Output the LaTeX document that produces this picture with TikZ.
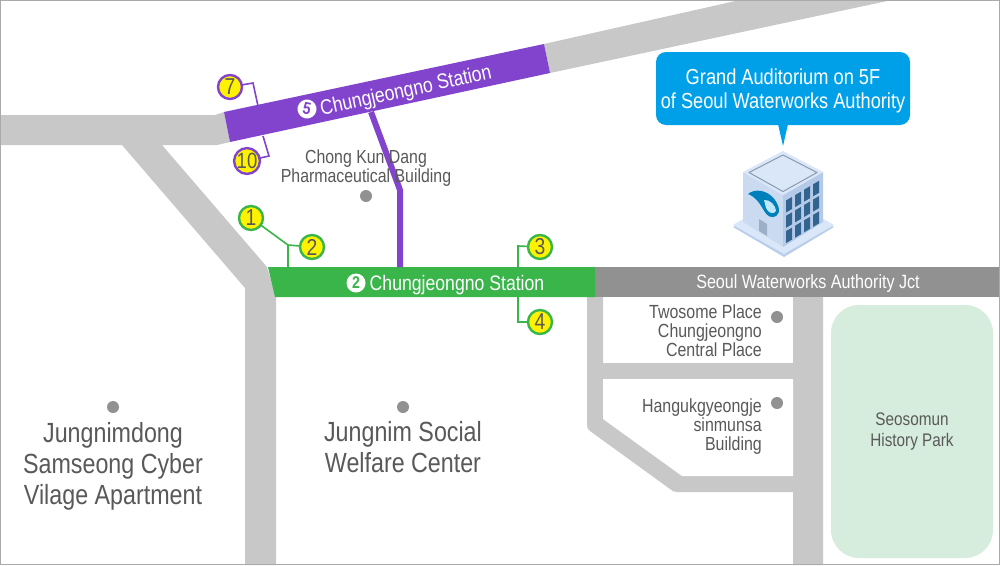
\documentclass[tikz,border=0pt]{standalone}
\usepackage{fontspec}
\setmainfont[FakeStretch=0.84]{Liberation Sans}
\definecolor{road}{HTML}{C8C8C8}
\definecolor{jct}{HTML}{919191}
\definecolor{grn}{HTML}{39B54A}
\definecolor{pur}{HTML}{8244CC}
\definecolor{txt}{HTML}{595959}
\definecolor{sky}{HTML}{00A0E9}
\definecolor{park}{HTML}{D6ECDD}
\definecolor{yel}{HTML}{FFF200}
\definecolor{wallL}{HTML}{CADBF1}
\definecolor{wallR}{HTML}{B4CAE8}
\definecolor{roofc}{HTML}{D9E7F8}
\definecolor{edgec}{HTML}{B9CEEA}
\definecolor{win}{HTML}{33648F}
\tikzset{
 x=1pt,y=-1pt,
 roadf/.style={fill=road,draw=none},
 exitg/.style={circle,draw=grn,fill=yel,line width=2.4pt,minimum size=24pt,inner sep=0pt,font=\fontsize{23}{23}\selectfont,text=txt},
 exitp/.style={circle,draw=pur,fill=yel,line width=2.4pt,minimum size=24pt,inner sep=0pt,font=\fontsize{23}{23}\selectfont,text=txt},
 lg/.style={draw=grn,line width=1.6pt},
 lp/.style={draw=pur,line width=1.6pt},
 poi/.style={circle,fill=jct,minimum size=12pt,inner sep=0pt},
 lab/.style={text=txt,align=center,inner sep=0pt},
 labr/.style={text=txt,align=right,inner sep=0pt,font=\fontsize{19}{19}\selectfont},
 big/.style={lab,font=\fontsize{27.7}{31}\selectfont},
 mid/.style={lab,font=\fontsize{18.9}{16.5}\selectfont},
 wlab/.style={text=white,inner sep=0pt},
 lineno/.style={circle,fill=white,minimum size=19pt,inner sep=0pt,font=\bfseries\fontsize{17}{17}\selectfont},
 winr/.style={fill=win,draw=none}
}
\begin{document}
\begin{tikzpicture}
\useasboundingbox (0,0) rectangle (1000,565);
\fill[white] (0,0) rectangle (1000,565);
% roads
\fill[roadf] (0,115) -- (215,115) -- (224,112) -- (230,142) -- (217,145) -- (162,145) -- (267,267) -- (276,297) -- (276,565) -- (245,565) -- (245,288) -- (122,145) -- (0,145) -- cycle;
\fill[roadf] (544,44) -- (740,0) -- (892,0) -- (550,73) -- cycle;
\fill[roadf] (587,297) -- (603,297) -- (603,363) -- (793,363) -- (793,297) -- (823,297) -- (823,565) -- (793,565) -- (793,492) -- (677,492) .. controls (674,492) and (672,491) .. (670,489) -- (590,431) .. controls (588,430) and (587,428) .. (587,425) -- cycle;
\fill[white] (603,379) -- (793,379) -- (793,476) -- (682,476) -- (603,419) -- cycle;
% park
\fill[park,rounded corners=28pt] (831,305) rectangle (993,558);
\node[lab,font=\fontsize{18.2}{21}\selectfont] (parkt) at (912,432) {Seosomun\\History Park};
% stations
\fill[grn] (268,267) -- (595,267) -- (595,297) -- (275,297) -- cycle;
\fill[jct] (595,267) rectangle (1000,297);
\node[wlab,font=\fontsize{19.2}{19.2}\selectfont] (jctt) at (808,284) {Seoul Waterworks Authority Jct};
% purple link
\coordinate (pa) at (371,112);
\coordinate (pb) at (400,190);
\coordinate (pc) at (400,267);
\draw[pur,line width=6pt,line join=round] (pa) -- (pb) -- (pc);
\fill[pur] (224,112) -- (544,44) -- (550,73) -- (230,142) -- cycle;
% exits
\coordinate (c7) at (230,87);
\coordinate (c10) at (247,161);
\coordinate (c1) at (251,218);
\coordinate (c2) at (312,247);
\coordinate (c3) at (540,247);
\coordinate (c4) at (540,322);
\coordinate (j7a) at (253,83);
\coordinate (j7b) at (258,106);
\coordinate (j10a) at (263,136);
\coordinate (j10b) at (269,156);
\coordinate (j12) at (288,245);
\coordinate (j12b) at (288,267);
\coordinate (j3a) at (518,246);
\coordinate (j3b) at (518,267);
\coordinate (j4a) at (518,297);
\coordinate (j4b) at (518,322);
\draw[lp] (c7) -- (j7a) -- (j7b);
\draw[lp] (j10a) -- (j10b) -- (c10);
\draw[lg] (c1) -- (j12) -- (c2);
\draw[lg] (j12) -- (j12b);
\draw[lg] (c3) -- (j3a) -- (j3b);
\draw[lg] (j4a) -- (j4b) -- (c4);
\node[exitp] (e7) at (c7) {7};
\node[exitp,font=\fontsize{22}{22}\selectfont] (e10) at (c10) {10};
\node[exitg] (e1) at (c1) {1};
\node[exitg] (e2) at (c2) {2};
\node[exitg] (e3) at (c3) {3};
\node[exitg] (e4) at (c4) {4};
% station labels
\node[lineno,text=grn] (n2) at (356,283) {2};
\node[wlab,font=\fontsize{21}{21}\selectfont] (gt) at (457,285.5) {Chungjeongno Station};
\node[lineno,text=pur,rotate=-12] (n5) at (307,109) {5};
\node[wlab,font=\fontsize{21}{21}\selectfont,rotate=12.2] (pt) at (406,91.5) {Chungjeongno Station};
% POIs
\node[poi] (d1) at (366,196) {};
\node[mid] (t1) at (366,168) {Chong Kun Dang\\Pharmaceutical Building};
\node[poi] (d2) at (777,317) {};
\node[labr,anchor=north east] (t2) at (762,305) {Twosome Place\\Chungjeongno\\Central Place};
\node[poi] (d3) at (777,403) {};
\node[labr,anchor=north east] (t3) at (762,399) {Hangukgyeongje\\sinmunsa\\Building};
\node[poi] (d4) at (113,407) {};
\node[big] (t4) at (113,466) {Jungnimdong\\Samseong Cyber\\Vilage Apartment};
\node[poi] (d5) at (403,407) {};
\node[big] (t5) at (403,447.5) {Jungnim Social\\Welfare Center};
% callout
\fill[sky,rounded corners=10pt] (656,52) rectangle (910,125);
\fill[sky] (778,124) -- (788,124) -- (783,146) -- cycle;
\node[wlab,align=center,font=\fontsize{21.7}{24}\selectfont] (ct) at (783,91) {Grand Auditorium on 5F\\of Seoul Waterworks Authority};
% building
\fill[edgec] (733,227) -- (743,222) -- (823,222) -- (834,227) -- (784,257) -- cycle;
\fill[roofc] (733,225) -- (783,196) -- (834,225) -- (784,254) -- cycle;
\fill[wallL] (743,172) -- (783,195) -- (783,247) -- (743,222) -- cycle;
\fill[wallR] (823,172) -- (783,195) -- (783,247) -- (823,222) -- cycle;
\fill[roofc] (783,151) -- (743,172) -- (783,195) -- (823,172) -- cycle;
\draw[edgec!75!black,line width=1pt,line join=round] (783,155) -- (749,172.5) -- (783,191.5) -- (817,172.5) -- cycle;
\foreach \c in {0,1,2,3} \foreach \r in {0,1,2} {
 \pgfmathsetmacro{\xa}{786+\c*9}
 \pgfmathsetmacro{\ya}{200.5-\c*5.4+\r*15.3}
 \fill[winr] (\xa,\ya) -- ++(6,-3.5) -- ++(0,12) -- ++(-6,3.5) -- cycle;
}
\fill[edgec!85!black] (759,219) -- (767,224) -- (767,236) -- (759,231) -- cycle;
\fill[sky!80!black] (748,194) .. controls (755,188) and (768,190) .. (775,200) .. controls (782,210) and (779,217) .. (772,217) .. controls (763,217) and (763,200) .. (748,194) -- cycle;
\fill[white!75!sky] (764,200) .. controls (770,199) and (776,206) .. (776,211) .. controls (774,215) and (768,213) .. (766,208) -- cycle;
% frame
\draw[line width=1.5pt,draw=road!85!black] (0.7,0.7) rectangle (999.3,564.3);
\end{tikzpicture}
\end{document}
